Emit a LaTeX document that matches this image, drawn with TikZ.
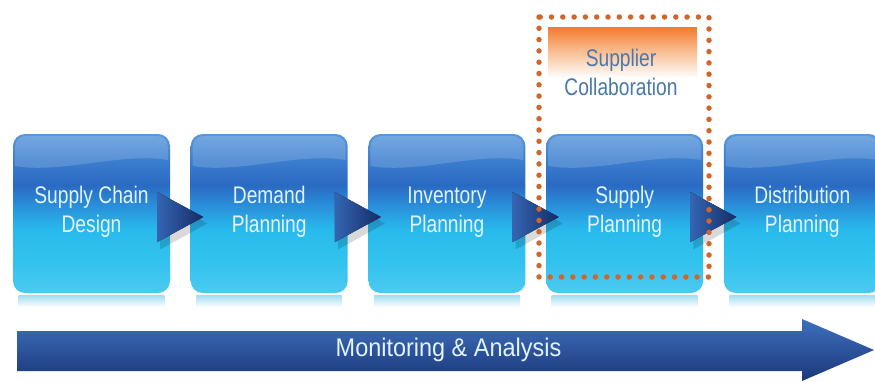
\documentclass[tikz,border=0pt]{standalone}
\usepackage{fontspec}
\setmainfont{Liberation Sans}
\newfontfamily\boxfont[FakeStretch=0.8]{Liberation Sans}
\newfontfamily\monfont[FakeStretch=0.92]{Liberation Sans}
\usetikzlibrary{calc}
\definecolor{bx0}{HTML}{4CCAF0}
\definecolor{bx1}{HTML}{32C2EE}
\definecolor{bx2}{HTML}{28BAEC}
\definecolor{bx3}{HTML}{2A8CD8}
\definecolor{bx4}{HTML}{2A6AC2}
\definecolor{bx5}{HTML}{3C7ECF}
\definecolor{bx6}{HTML}{5A98DC}
\definecolor{or0}{HTML}{F47A2E}
\definecolor{or1}{HTML}{F9B888}
\definecolor{dotc}{HTML}{D0662C}
\definecolor{suptxt}{HTML}{4A78AA}
\definecolor{boxtxt}{HTML}{E2F3FB}
\definecolor{arrtop}{HTML}{3E70BC}
\definecolor{arrbot}{HTML}{1B377A}
\definecolor{tril}{HTML}{3565B2}
\definecolor{trir}{HTML}{142C66}
\definecolor{refl}{HTML}{A0DCF2}
\pgfdeclareverticalshading{boxshade}{100bp}{color(0bp)=(bx0); color(25bp)=(bx0); color(35bp)=(bx1); color(45bp)=(bx2); color(53bp)=(bx3); color(59bp)=(bx4); color(67bp)=(bx5); color(75bp)=(bx6); color(100bp)=(bx6)}
\pgfdeclareverticalshading{orshade}{100bp}{color(0bp)=(white); color(25bp)=(white); color(45bp)=(white); color(62bp)=(or1); color(75bp)=(or0); color(100bp)=(or0)}
\tikzset{
  box/.style={rounded corners=12pt, minimum width=157pt, minimum height=159pt, inner sep=0pt, shading=boxshade},
  lbl/.style={align=center, text=boxtxt, font=\boxfont\fontsize{24}{29}\selectfont},
  suplbl/.style={align=center, text=suptxt, font=\boxfont\fontsize{24}{29}\selectfont},
  monlbl/.style={text=boxtxt, font=\monfont\fontsize{25.5}{30}\selectfont},
  gloss/.style={fill=white, fill opacity=0.16},
  reflect/.style={top color=refl, bottom color=white},
  tri/.style={left color=tril, right color=trir},
  trishadow/.style={fill=black, fill opacity=0.15},
  dots/.style={draw=dotc, line width=5.5pt, line cap=round, dash pattern=on 0pt off 11.3pt},
  bigarrow/.style={top color=arrtop, bottom color=arrbot}
}
\begin{document}
\begin{tikzpicture}[x=1pt,y=-1pt]
\useasboundingbox (0,0) rectangle (875,381);
\clip (0,0) rectangle (875,381);
\fill[white] (0,0) rectangle (875,381);
% supplier collaboration panel
\path[shading=orshade] (548,27) rectangle (697,112);
\node[suplbl] (sup) at (621,72) {Supplier\\Collaboration};
% boxes
\foreach \n/\cx/\txt in {1/91.5/{Supply Chain\\Design}, 2/269.2/{Demand\\Planning}, 3/446.9/{Inventory\\Planning}, 4/624.6/{Supply\\Planning}, 5/802.3/{Distribution\\Planning}}{
  \path[reflect] (\cx-73,295) rectangle (\cx+73,307);
  \node[box] (b\n) at (\cx,213.5) {};
  \fill[gloss] (\cx-76.5,166) [rounded corners=11pt] -- (\cx-76.5,136) -- (\cx+76.5,136) [sharp corners] -- (\cx+76.5,160) .. controls (\cx+30,152) and (\cx-30,174) .. (\cx-76.5,166) -- cycle;
  \node[lbl] (t\n) at (\cx,212) {\txt};
}
% arrow triangles between boxes
\foreach \n in {1,2,3,4}{
  \fill[trishadow] ($(b\n.east)+(-10,-17)$) -- ($(b\n.east)+(37,10)$) -- ($(b\n.east)+(-10,36)$) -- cycle;
  \fill[tri] ($(b\n.east)+(-13,-21.5)$) -- ($(b\n.east)+(33,3.5)$) -- ($(b\n.east)+(-13,28.5)$) -- cycle;
}
% dotted frame
\draw[dots] (539,17) rectangle (709,277);
% monitoring arrow
\path[bigarrow] (17,331) -- (802,331) -- (802,319) -- (874,350) -- (802,381) -- (802,371) -- (17,371) -- cycle;
\node[monlbl] (mon) at (448.5,350) {Monitoring \& Analysis};
\end{tikzpicture}
\end{document}
